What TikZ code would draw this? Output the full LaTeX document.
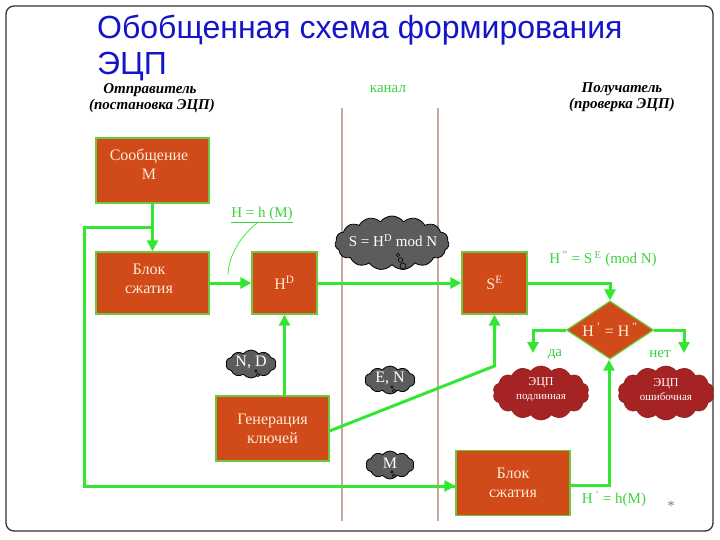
\documentclass[tikz,border=0pt]{standalone}
\usepackage{fontspec}
\setmainfont{Liberation Serif}
\newfontfamily\titlefont{Liberation Sans}
\usetikzlibrary{shapes.geometric,shapes.symbols,arrows.meta,calc}
\definecolor{boxfill}{RGB}{208,74,26}
\definecolor{boxline}{RGB}{110,200,60}
\definecolor{conn}{RGB}{50,230,50}
\definecolor{boxtext}{RGB}{255,236,214}
\definecolor{titleblue}{RGB}{20,20,200}
\definecolor{chan}{RGB}{200,168,152}
\definecolor{cloudgray}{RGB}{92,92,92}
\definecolor{cloudred}{RGB}{165,35,35}
\definecolor{labgreen}{RGB}{60,210,60}
\tikzset{
  blockbox/.style={rectangle, draw=boxline, line width=1.3pt, fill=boxfill, inner sep=0pt},
  boxlab/.style={text=boxtext, font=\fontsize{16}{19}\selectfont, align=center, inner sep=0pt},
  decbox/.style={diamond, draw=boxline, line width=1.3pt, fill=boxfill, text=boxtext,
    font=\fontsize{16}{19}\selectfont, inner sep=0pt, minimum width=87pt, minimum height=58pt, aspect=1.5},
  conn/.style={draw=conn, line width=3pt},
  arr/.style={conn, -{Triangle[length=11pt,width=11pt]}},
  graycloud/.style={cloud, cloud ignores aspect, draw=black, line width=0.8pt, fill=cloudgray, inner sep=0pt, cloud puff arc=105},
  redcloud/.style={cloud, cloud ignores aspect, draw=cloudred!85!black, line width=0.6pt, fill=cloudred, inner sep=0pt, cloud puff arc=105},
  bubble/.style={circle, draw=black, line width=0.6pt, fill=cloudgray, inner sep=0pt},
  cloudtext/.style={text=white, font=\fontsize{15}{18}\selectfont, inner sep=0pt},
  redtext/.style={text=white, font=\fontsize{12}{14}\selectfont, align=center, inner sep=0pt},
  greenlab/.style={text=labgreen, font=\fontsize{15}{18}\selectfont, inner sep=0pt},
  sidelab/.style={text=black, font=\fontsize{15}{17}\selectfont\bfseries\itshape, inner sep=0pt},
  titlelab/.style={text=titleblue, font=\titlefont\fontsize{32}{38}\selectfont, inner sep=0pt},
  chanline/.style={draw=chan, line width=1.8pt}
}
\begin{document}
\begin{tikzpicture}[x=1pt,y=-1pt]
\useasboundingbox (0,0) rectangle (720,540);
% frame
\draw[line width=1.3pt, black!80, rounded corners=8pt] (6,6) rectangle (713,531);
% title
\node[titlelab, anchor=base west] (t1) at (97,39) {Обобщенная схема формирования};
\node[titlelab, anchor=base west] (t2) at (97,75) {ЭЦП};
% side labels
\node[sidelab] (s1) at (150,90) {Отправитель};
\node[sidelab] (s2) at (152,106) {(постановка ЭЦП)};
\node[sidelab] (r1) at (622,89) {Получатель};
\node[sidelab] (r2) at (622,105) {(проверка ЭЦП)};
\node[text=labgreen, font=\fontsize{15}{17}\selectfont, inner sep=0pt] (ch) at (388,89) {канал};
% channel lines
\coordinate (c1t) at (342,108); \coordinate (c1b) at (342,521);
\coordinate (c2t) at (438,108); \coordinate (c2b) at (438,521);
\draw[chanline] (c1t) -- (c1b);
\draw[chanline] (c2t) -- (c2b);
% blocks
\node[blockbox, minimum width=113pt, minimum height=65pt] (msg) at (152.5,170.5) {};
\node[boxlab] (msgt) at (149,164.5) {Сообщение\\M};
\node[blockbox, minimum width=113pt, minimum height=62pt] (blk1) at (152.5,283) {};
\node[boxlab] (blk1t) at (149,279) {Блок\\сжатия};
\node[blockbox, minimum width=65pt, minimum height=62pt] (hd) at (284.5,283) {};
\node[boxlab] (hdt) at (hd) {H\textsuperscript{D}};
\node[blockbox, minimum width=65pt, minimum height=62pt] (se) at (494.5,283) {};
\node[boxlab] (set) at (se) {S\textsuperscript{E}};
\node[blockbox, minimum width=113pt, minimum height=65pt] (gen) at (272.5,428.5) {};
\node[boxlab] (gent) at (gen) {Генерация\\ключей};
\node[blockbox, minimum width=114pt, minimum height=65pt] (blk2) at (513,483) {};
\node[boxlab] (blk2t) at (blk2) {Блок\\сжатия};
\node[decbox] (dia) at (610,330) {H\,\textsuperscript{'} = H\,\textsuperscript{"}};
% connectors
\draw[arr] (msg.south) -- (blk1.north);
\coordinate (j) at (152.5,228);
\coordinate (lt) at (84,228);
\coordinate (lb) at (84,486);
\draw[conn, line join=miter] (j) -- (lt) -- (lb) -- (lb -| blk2.west);
\draw[arr] (lb) -- (lb -| blk2.west);
\draw[arr] (blk1.east) -- (hd.west);
\draw[arr] (hd.east) -- (se.west);
\draw[arr] (se.east) -- (se.east -| dia.north) -- (dia.north);
\coordinate (dl) at (533,330); \coordinate (dle) at (533,353);
\coordinate (dr) at (684,330); \coordinate (dre) at (684,353);
\draw[arr] (dia.west) -- (dl) -- (dle);
\draw[arr] (dia.east) -- (dr) -- (dre);
\draw[arr] (gen.north -| hd.south) -- (hd.south);
\coordinate (ge) at (329.5,431);
\coordinate (gb) at (494.5,366);
\draw[arr] (ge) -- (gb) -- (se.south);
\coordinate (be) at (570,485);
\coordinate (bc) at (609,485);
\draw[arr] (be) -- (bc) -- (bc |- dia.south);
% labels
\node[greenlab] (hlab) at (262,215) {\underline{H = h (M)}};
\coordinate (cs) at (257,223);
\coordinate (ce) at (228,275);
\draw[draw=conn, line width=0.7pt] (cs) .. controls (241,236) and (229,254) .. (ce);
\node[greenlab] (hpp) at (603,259) {H\,\textsuperscript{"} = S\,\textsuperscript{E} (mod N)};
\node[greenlab] (hp) at (614,499) {H\,\textsuperscript{'} = h(M)};
\node[greenlab] (da) at (555,354) {да};
\node[greenlab] (net) at (660,354) {нет};
\node[text=black!55, font=\fontsize{14}{14}\selectfont, inner sep=0pt] (star) at (671,506) {*};
% gray clouds
\node[graycloud, cloud puffs=15, minimum width=114pt, minimum height=54pt] (cl1) at (392,243) {};
\node[bubble, minimum size=3.5pt] (b11) at (398,255) {};
\node[bubble, minimum size=4.5pt] (b12) at (400.5,260) {};
\node[bubble, minimum size=6pt] (b13) at (403,266) {};
\node[cloudtext] (cl1t) at (393,241) {S = H\textsuperscript{D} mod N};
\node[graycloud, cloud puffs=10, minimum width=50pt, minimum height=28pt] (cl2) at (251,364) {};
\node[bubble, minimum size=2.5pt] (b21) at (256,371) {};
\node[bubble, minimum size=3.5pt] (b22) at (258,375) {};
\node[cloudtext, font=\fontsize{16}{18}\selectfont] (cl2t) at (251,362) {N, D};
\node[graycloud, cloud puffs=10, minimum width=50pt, minimum height=28pt] (cl3) at (390,380) {};
\node[bubble, minimum size=2.5pt] (b31) at (392,387) {};
\node[bubble, minimum size=3.5pt] (b32) at (394,391) {};
\node[cloudtext, font=\fontsize{16}{18}\selectfont] (cl3t) at (390,378) {E, N};
\node[graycloud, cloud puffs=10, minimum width=48pt, minimum height=28pt] (cl4) at (390,465) {};
\node[bubble, minimum size=2.5pt] (b41) at (392,472) {};
\node[bubble, minimum size=3.5pt] (b42) at (394,476) {};
\node[cloudtext, font=\fontsize{16}{18}\selectfont] (cl4t) at (390,463) {M};
% red clouds
\node[redcloud, cloud puffs=14, minimum width=96pt, minimum height=54pt] (rc1) at (541,393) {};
\node[redtext] (rc1t) at (541,390) {ЭЦП\\{\fontsize{11}{13}\selectfont подлинная}};
\node[redcloud, cloud puffs=14, minimum width=96pt, minimum height=54pt] (rc2) at (666,393) {};
\node[redtext] (rc2t) at (666,390) {ЭЦП\\{\fontsize{11}{13}\selectfont ошибочная}};
\end{tikzpicture}
\end{document}
